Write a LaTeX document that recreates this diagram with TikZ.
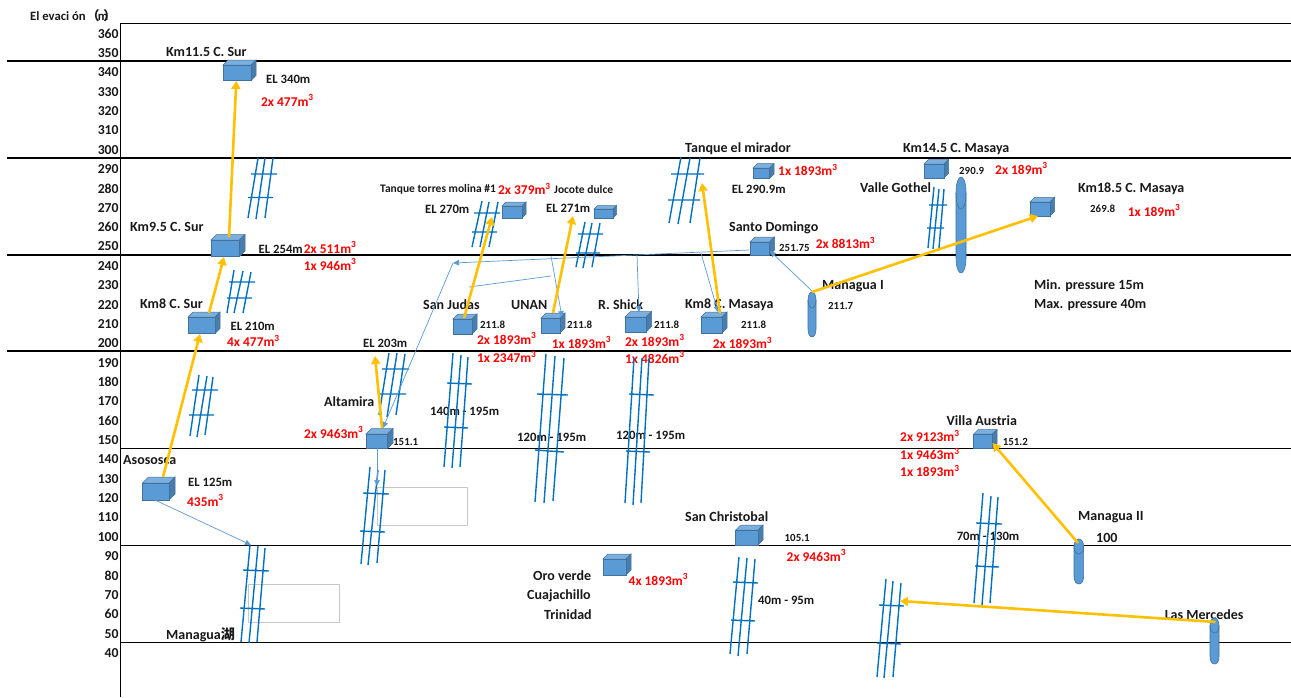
\documentclass[tikz,border=0pt]{standalone}
\usepackage{fontspec}
\setmainfont{Carlito}
\newfontfamily\cjk{Noto Sans CJK SC}
\usetikzlibrary{arrows.meta}
\definecolor{tankfront}{HTML}{5B9BD5}
\definecolor{tanktop}{HTML}{7CAFDD}
\definecolor{tankside}{HTML}{497DAC}
\definecolor{tankedge}{HTML}{41719C}
\definecolor{pipeblue}{HTML}{0070C0}
\definecolor{feedyellow}{HTML}{FFC000}
\definecolor{thinblue}{HTML}{5B9BD5}
\definecolor{redtxt}{HTML}{FF0000}
\definecolor{boxgrey}{HTML}{C8C8C8}
\tikzset{
  pipe/.style={draw=pipeblue,line width=1.4pt},
  feed/.style={draw=feedyellow,line width=2.6pt,-{Triangle[width=9pt,length=8pt]}},
  flow/.style={draw=thinblue,line width=0.7pt,-{Triangle[width=5.5pt,length=6pt]}},
  flowplain/.style={draw=thinblue,line width=0.7pt},
  greybox/.style={draw=boxgrey,line width=0.9pt},
  bigrule/.style={draw=black,line width=1.3pt},
  thinrule/.style={draw=black,line width=0.8pt},
  ticklab/.style={anchor=east,inner sep=0pt,font=\fontsize{13.7}{14}\selectfont\bfseries,text=black!90},
  biglab/.style={anchor=west,inner sep=0pt,font=\fontsize{14}{15}\selectfont\bfseries,text=black!90},
  midlab/.style={anchor=west,inner sep=0pt,font=\fontsize{12.7}{14}\selectfont\bfseries,text=black!90},
  tinylab/.style={anchor=west,inner sep=0pt,font=\fontsize{11.5}{13}\selectfont\bfseries,text=black!90},
  smalllab/.style={anchor=west,inner sep=0pt,font=\fontsize{10.9}{12}\selectfont\bfseries,text=black!90},
  redlab/.style={anchor=west,inner sep=0pt,font=\fontsize{13.4}{14}\selectfont\bfseries,text=redtxt},
}
\newcount\lc
\newcommand\LB[3]{\global\advance\lc by 1 \node[biglab] (t\the\lc) at (#1,#2) {#3};}
\newcommand\LM[3]{\global\advance\lc by 1 \node[midlab] (t\the\lc) at (#1,#2) {#3};}
\newcommand\LT[3]{\global\advance\lc by 1 \node[tinylab] (t\the\lc) at (#1,#2) {#3};}
\newcommand\LS[3]{\global\advance\lc by 1 \node[smalllab] (t\the\lc) at (#1,#2) {#3};}
\newcommand\LR[3]{\global\advance\lc by 1 \node[redlab] (t\the\lc) at (#1,#2) {#3};}
\newcommand\mc{m\textsuperscript{3}}
\newcommand\tank[6]{%name x0 y0 x1 y1 depth
  \filldraw[fill=tanktop,draw=tankedge,line width=0.5pt] (#2,#3) -- ({#2+#6},{#3-#6}) -- ({#4+#6},{#3-#6}) -- (#4,#3) -- cycle;
  \filldraw[fill=tankside,draw=tankedge,line width=0.5pt] (#4,#3) -- ({#4+#6},{#3-#6}) -- ({#4+#6},{#5-#6}) -- (#4,#5) -- cycle;
  \filldraw[fill=tankfront,draw=tankedge,line width=0.5pt] (#2,#3) rectangle (#4,#5);
  \coordinate (#1) at ({(#2+#4)/2},{(#3+#5)/2});
}
\newcommand\cyl[6]{%name x0 y0 x1 y1 ry
  \filldraw[fill=tankfront,draw=tankedge,line width=0.6pt]
    (#2,{#3+#6}) .. controls (#2,{#3-#6/3}) and (#4,{#3-#6/3}) .. (#4,{#3+#6})
    -- (#4,{#5-#6}) .. controls (#4,{#5+#6/3}) and (#2,{#5+#6/3}) .. (#2,{#5-#6}) -- cycle;
  \draw[tankedge,line width=0.6pt] (#2,{#3+#6}) .. controls (#2,{#3+7*#6/3}) and (#4,{#3+7*#6/3}) .. (#4,{#3+#6});
  \coordinate (#1) at ({(#2+#4)/2},{(#3+#5)/2});
}
\begin{document}
\begin{tikzpicture}[x=1pt,y=-1pt]
\useasboundingbox (0,0) rectangle (1291,697);
\fill[white] (0,0) rectangle (1291,697);
% rules
\coordinate (a0) at (120.5,23); \coordinate (a1) at (120.5,697);
\draw[thinrule] (a0) -- (a1);
\draw[thinrule] (a0) -- (1291,23);
\foreach \y in {61,158,255,351} \draw[bigrule] (7,\y) -- (1291,\y);
\foreach \y in {448,545,642} \draw[thinrule] (120.5,\y) -- (1291,\y);
% axis
\foreach \t in {40,50,...,360} \node[ticklab] (tick\t) at (118.8,{653-(\t-40)*1.9355}) {\t};
\node[midlab] (axistitle) at (30,15.5) {El evaci ón\kern1pt{\cjk （}\kern-1.5pt m\kern-5pt{\cjk ）}};
% labels
\LB{166}{52}{Km11.5 C. Sur}
\LB{130}{227}{Km9.5 C. Sur}
\LB{140}{304}{Km8 C. Sur}
\LB{123}{460}{Asososca}
\LB{324}{402}{Altamira}
\LB{166}{635}{Managua{\cjk 湖}}
\LB{423}{305}{San Judas}
\LB{511}{305}{UNAN}
\LB{598}{305}{R. Shick}
\LB{685}{305}{Km8 C. Masaya}
\LB{685}{149}{Tanque el mirador}
\LB{729}{228}{Santo Domingo}
\LB{903}{149.5}{Km14.5 C. Masaya}
\LB{860}{188}{Valle Gothel}
\LB{1078}{188.5}{Km18.5 C. Masaya}
\LB{822}{286}{Managua I}
\LB{1034}{286}{Min. pressure 15m}
\LB{1034}{305}{Max. pressure 40m}
\LB{946.5}{421}{Villa Austria}
\LB{685}{517}{San Christobal}
\LB{1078}{517.5}{Managua II}
\LB{1096}{537.7}{100}
\LB{533}{575.7}{Oro verde}
\LB{527}{595.7}{Cuajachillo}
\LB{544}{614.7}{Trinidad}
\LB{1164.6}{614.7}{Las Mercedes}
\LT{380}{189.5}{Tanque torres molina \#1}
\LT{554}{189.5}{Jocote dulce}
\LM{266}{79}{EL 340m}
\LM{258.5}{249}{EL 254m}
\LM{230.5}{326}{EL 210m}
\LM{363}{343}{EL 203m}
\LM{188}{482}{EL 125m}
\LM{425}{209}{EL 270m}
\LM{546}{208}{EL 271m}
\LM{731.6}{189}{EL 290.9m}
\LM{430}{411}{140m - 195m}
\LM{517}{437}{120m - 195m}
\LM{616}{435}{120m - 195m}
\LM{956.6}{536}{70m - 130m}
\LM{758}{600}{40m - 95m}
\LS{393}{441.5}{151.1}
\LS{480}{325}{211.8}
\LS{567}{325}{211.8}
\LS{654}{325}{211.8}
\LS{741}{325}{211.8}
\LS{779}{247.5}{251.75}
\LS{959}{170.5}{290.9}
\LS{1090}{208.5}{269.8}
\LS{828}{305.5}{211.7}
\LS{1002.7}{441.5}{151.2}
\LS{784.5}{538}{105.1}
\LR{261}{100.5}{2x 477\mc}
\LR{303.7}{247.5}{2x 511\mc}
\LR{303.7}{264.5}{1x 946\mc}
\LR{227}{341}{4x 477\mc}
\LR{187}{500.5}{435\mc}
\LR{304}{432.5}{2x 9463\mc}
\LR{477}{338.5}{2x 1893\mc}
\LR{477}{357}{1x 2347\mc}
\LR{551.7}{342.5}{1x 1893\mc}
\LR{625}{340.5}{2x 1893\mc}
\LR{625}{357.5}{1x 4826\mc}
\LR{712.7}{343}{2x 1893\mc}
\LR{498}{189}{2x 379\mc}
\LR{778}{170}{1x 1893\mc}
\LR{815.7}{243}{2x 8813\mc}
\LR{995}{168.5}{2x 189\mc}
\LR{1127.7}{210.5}{1x 189\mc}
\LR{900}{436}{2x 9123\mc}
\LR{900}{454}{1x 9463\mc}
\LR{900}{471}{1x 1893\mc}
\LR{786.5}{555.5}{2x 9463\mc}
\LR{628.5}{579.5}{4x 1893\mc}
% grey boxes
\draw[greybox] (377,487) rectangle (467,525);
\draw[greybox] (248,584) rectangle (339,622);
% pipe hatches
\draw[pipe] (258,158)--(248,218) (265,158)--(256,219) (273,158)--(265,218) (251,174)--(277,174) (248,197.5)--(273,197.5);
\draw[pipe] (234,270)--(227,313) (243,271)--(234,313) (251,272)--(243,313) (229,282)--(255,282) (227,298)--(252,298);
\draw[pipe] (199,375)--(190,436) (207,376)--(197,437) (213,377)--(205,435) (192,390)--(218,390) (189,415)--(214,415);
\draw[pipe] (389,353)--(379,415) (397,353)--(387,417) (405,354)--(396,415) (382,369)--(409,369) (379,394)--(406,394);
\draw[pipe] (453,353)--(444,467) (461,355)--(452,468) (468,357)--(460,467) (447,383)--(472,384) (444,427)--(468,428);
\draw[pipe] (370,467)--(361,564) (378,470)--(368,565) (385,470)--(377,563) (363,493)--(389,494) (360,531)--(385,532);
\draw[pipe] (250,545)--(241,642) (258,546)--(249,643) (265,548)--(257,642) (243,570)--(269,571) (240,608)--(265,609);
\draw[pipe] (482,201)--(472,247) (489,202)--(480,247) (498,202)--(489,247) (474,213)--(500,213) (472,232)--(497,232);
\draw[pipe] (585,222)--(576,267) (592,223)--(583,268) (600,223)--(592,267) (578,234)--(603,234) (576,253)--(600,253);
\draw[pipe] (681,157)--(669,223) (690,158)--(678,224) (700,158)--(690,223) (671,174)--(704,174) (668,200)--(700,200);
\draw[pipe] (934,187)--(928,248) (939,189)--(933,249) (944,189)--(939,248) (929,205)--(947,205) (927,228)--(944,228);
\draw[pipe] (546,354)--(535,502) (555,356)--(544,503) (564,358)--(553,501) (537,394)--(568,395) (535,450)--(564,452);
\draw[pipe] (634,358)--(625,503) (642,358)--(633,505) (649,358)--(641,503) (629,394)--(654,395) (626,451)--(650,452);
\draw[pipe] (739,557)--(730,654) (747,558)--(738,656) (755,559)--(747,654) (733,582)--(758,583) (731,620)--(755,621);
\draw[pipe] (983,493)--(974,603) (991,496)--(982,605) (998,497)--(990,603) (976,523)--(1002,524) (975,566)--(999,567);
\draw[pipe] (886,579)--(877,677) (893,581)--(884,678) (901,583)--(893,677) (879,605)--(904,606) (877,643)--(901,644);
% tanks
\tank{km115}{223}{65}{251}{80.5}{5}
\tank{km95}{211}{240}{239.5}{256.5}{5.5}
\tank{km8s}{188}{317}{215}{333.5}{5}
\tank{aso}{142.5}{483}{169}{500}{6}
\tank{alta}{366}{434}{387.5}{448.5}{5.5}
\tank{judas}{453}{319}{472}{334}{5}
\tank{unan}{541}{318}{560}{333}{5}
\tank{shick}{625}{317}{646}{332}{5.5}
\tank{km8m}{701}{317}{722}{333}{5}
\tank{santo}{750}{242}{769.5}{255}{5}
\tank{mirador}{753}{168}{769.5}{178.5}{4.5}
\tank{torres}{502}{206}{522}{218}{4}
\tank{jocote}{594}{209}{613}{218}{3.5}
\tank{km145}{924}{164}{944}{178}{4.5}
\tank{km185}{1030}{202}{1050}{216}{4.7}
\tank{villa}{973.6}{434}{992.5}{448}{4.5}
\tank{sanc}{735.6}{530}{758}{545}{5}
\tank{oro}{603}{559}{626}{575}{5}
% cylinders
\cyl{mgI}{808}{292}{816}{337}{8}
\cyl{valle}{956}{177}{966}{273}{16}
\cyl{mgII}{1074}{539}{1083.6}{584}{7.5}
\cyl{merc}{1210}{618}{1219}{664}{7.5}
% connector ends
\coordinate (aso-out) at (163,477); \coordinate (km8s-in) at (200,334);
\coordinate (km8s-out) at (209,313); \coordinate (km95-in) at (224,257);
\coordinate (km95-out) at (229,237); \coordinate (km115-in) at (236.3,81);
\coordinate (alta-out) at (382,428); \coordinate (el203) at (375,356);
\coordinate (judas-out) at (464,318); \coordinate (torres-in) at (492,217);
\coordinate (unan-out) at (553,313); \coordinate (jocote-in) at (573,216);
\coordinate (km8m-out) at (720,313); \coordinate (mirador-in) at (702,183);
\coordinate (mgI-out) at (812,292); \coordinate (km185-in) at (1038,216);
\coordinate (mgII-out) at (1078,543); \coordinate (villa-in) at (992.5,443);
\coordinate (merc-out) at (1215.5,622); \coordinate (hatch-in) at (900,601);
\coordinate (aso-thin) at (155,500); \coordinate (lake-in) at (251,545);
\coordinate (alta-thin) at (377,448); \coordinate (alta-down) at (377,486);
\coordinate (santo-thin) at (749,250); \coordinate (junction) at (453,263);
\coordinate (alta-top) at (383,428);
\coordinate (j1) at (637,255); \coordinate (shick-in) at (639,312);
\coordinate (j2) at (551,256); \coordinate (unan-in) at (562,317);
\coordinate (j3) at (551,276); \coordinate (j4) at (469,287);
\coordinate (j5) at (701,253); \coordinate (km8m-in) at (718,312);
\coordinate (mgI-thin) at (812,291); \coordinate (santo-in) at (770,251);
% thin flows
\draw[flow] (aso-thin) -- (lake-in);
\draw[flow] (alta-thin) -- (alta-down);
\draw[flow] (santo-thin) -- (junction);
\draw[flow] (junction) -- (alta-top);
\draw[flow] (j1) -- (shick-in);
\draw[flow] (j2) -- (unan-in);
\draw[flowplain] (j3) -- (j4);
\draw[flow] (j5) -- (km8m-in);
\draw[flow] (mgI-thin) -- (santo-in);
% main feeds
\draw[feed] (aso-out) -- (km8s-in);
\draw[feed] (km8s-out) -- (km95-in);
\draw[feed] (km95-out) -- (km115-in);
\draw[feed] (alta-out) -- (el203);
\draw[feed] (judas-out) -- (torres-in);
\draw[feed] (unan-out) -- (jocote-in);
\draw[feed] (km8m-out) -- (mirador-in);
\draw[feed] (mgI-out) -- (km185-in);
\draw[feed] (mgII-out) -- (villa-in);
\draw[feed] (merc-out) -- (hatch-in);
\end{tikzpicture}
\end{document}
